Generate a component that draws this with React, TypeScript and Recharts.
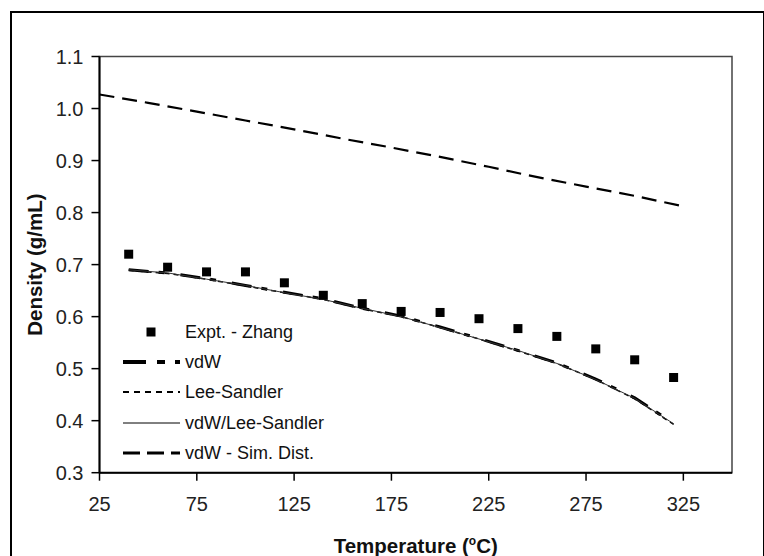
import React from 'react';
import { ComposedChart, Line, Scatter, XAxis, YAxis, Legend, ReferenceArea } from 'recharts';

// Temperatures (°C) of the experimental points and model curves
const temps = [40, 60, 80, 100, 120, 140, 160, 180, 200, 220, 240, 260, 280, 300, 320];
const zhangDensity = [0.72, 0.695, 0.686, 0.686, 0.665, 0.641, 0.625, 0.61, 0.608, 0.596, 0.577, 0.562, 0.538, 0.517, 0.483];
const vdwDensity = [0.69, 0.684, 0.673, 0.66, 0.647, 0.634, 0.616, 0.601, 0.58, 0.558, 0.535, 0.511, 0.48, 0.444, 0.395];
const leeSandlerDensity = [0.689, 0.683, 0.672, 0.659, 0.646, 0.633, 0.615, 0.6, 0.579, 0.557, 0.534, 0.51, 0.479, 0.442, 0.393];
const vdwLeeSandlerDensity = [0.69, 0.684, 0.672, 0.66, 0.646, 0.633, 0.616, 0.6, 0.579, 0.557, 0.535, 0.51, 0.479, 0.443, 0.394];

const simTemps = [25, 50, 75, 100, 125, 150, 175, 200, 225, 250, 275, 300, 325];
const simDistDensity = [1.027, 1.011, 0.994, 0.977, 0.96, 0.942, 0.925, 0.907, 0.888, 0.868, 0.85, 0.832, 0.812];

const xTicks = [25, 75, 125, 175, 225, 275, 325];
const yTicks = [0.3, 0.4, 0.5, 0.6, 0.7, 0.8, 0.9, 1.0, 1.1];

const zhangData = temps.map((t, i) => ({ t, d: zhangDensity[i] }));
const vdwData = temps.map((t, i) => ({ t, d: vdwDensity[i] }));
const leeData = temps.map((t, i) => ({ t, d: leeSandlerDensity[i] }));
const comboData = temps.map((t, i) => ({ t, d: vdwLeeSandlerDensity[i] }));
const simData = simTemps.map((t, i) => ({ t, d: simDistDensity[i] }));

const FONT = '"Liberation Sans", Arial, sans-serif';

const Square = (props: any) => {
  const { cx, cy } = props;
  if (cx == null || cy == null) return null;
  return <rect x={cx - 4.5} y={cy - 4.5} width={9} height={9} fill="#000" />;
};

const legendItems = [
  { name: 'Expt. - Zhang', kind: 'square' },
  { name: 'vdW', kind: 'line', width: 4, dash: '23 11 8 10' },
  { name: 'Lee-Sandler', kind: 'line', width: 2, dash: '6 5' },
  { name: 'vdW/Lee-Sandler', kind: 'line', width: 1, dash: undefined },
  { name: 'vdW - Sim. Dist.', kind: 'line', width: 3, dash: '17 7' },
];

const renderLegend = () => (
  <div style={{ fontFamily: FONT, fontSize: 18, color: '#111' }}>
    {legendItems.map((it) => (
      <div key={it.name} style={{ display: 'flex', alignItems: 'center', height: 30.2 }}>
        <svg width={62} height={30} style={{ display: 'block' }}>
          {it.kind === 'square' ? (
            <rect x={23.5} y={10.5} width={9} height={9} fill="#000" />
          ) : (
            <line x1={0} y1={15} x2={57} y2={15} stroke="#000" strokeWidth={it.width} strokeDasharray={it.dash} />
          )}
        </svg>
        <span style={{ lineHeight: '30px', whiteSpace: 'nowrap' }}>{it.name}</span>
      </div>
    ))}
  </div>
);

const XTitle = (props: any) => {
  const vb = props.viewBox || { x: 0, y: 0, width: 0 };
  return (
    <text x={vb.x + vb.width / 2} y={553} textAnchor="middle" fontFamily={FONT} fontSize={20.5} fontWeight="bold" fill="#111">
      Temperature (<tspan dy={-8} fontSize={12}>o</tspan><tspan dy={8}>C)</tspan>
    </text>
  );
};

const YTitle = (props: any) => {
  const vb = props.viewBox || { x: 0, y: 0, height: 0 };
  const cx = 35;
  const cy = vb.y + vb.height / 2;
  return (
    <text x={cx} y={cy} transform={`rotate(-90 ${cx} ${cy})`} textAnchor="middle" dominantBaseline="central"
      fontFamily={FONT} fontSize={20.5} fontWeight="bold" fill="#111">
      Density (g/mL)
    </text>
  );
};

export default function App() {
  return (
    <div style={{ position: 'absolute', left: 0, top: 0, width: 764, height: 556, overflow: 'hidden', background: '#fff' }}>
      <div style={{ position: 'absolute', left: 10, top: 11, width: 751, height: 600, border: '2px solid #000' }} />
      <ComposedChart
        width={764}
        height={556}
        margin={{ top: 56.5, right: 32, left: 0, bottom: 0 }}
        style={{ fontFamily: FONT }}
      >
        <XAxis
          type="number"
          dataKey="t"
          domain={[25, 350]}
          ticks={xTicks}
          allowDataOverflow
          height={83.3}
          tickSize={8}
          tickMargin={16}
          axisLine={{ stroke: '#000', strokeWidth: 2 }}
          tickLine={{ stroke: '#000', strokeWidth: 1.5 }}
          tick={{ fill: '#222', fontSize: 20 }}
          label={<XTitle />}
        />
        <YAxis
          type="number"
          dataKey="d"
          domain={[0.3, 1.1]}
          ticks={yTicks}
          allowDataOverflow
          width={99.5}
          tickSize={8}
          tickMargin={8}
          tickFormatter={(v: number) => v.toFixed(1)}
          axisLine={{ stroke: '#000', strokeWidth: 2 }}
          tickLine={{ stroke: '#000', strokeWidth: 1.5 }}
          tick={{ fill: '#222', fontSize: 20 }}
          label={<YTitle />}
        />
        <ReferenceArea x1={25} x2={350} y1={0.3} y2={1.1} fill="none" stroke="#444" strokeWidth={1.5} />
        <Line data={simData} dataKey="d" name="vdW - Sim. Dist." type="linear" stroke="#000" strokeWidth={2.2}
          strokeDasharray="15 8" dot={false} activeDot={false} isAnimationActive={false} />
        <Line data={leeData} dataKey="d" name="Lee-Sandler" type="linear" stroke="#000" strokeWidth={1.5}
          strokeDasharray="5 4" dot={false} activeDot={false} isAnimationActive={false} />
        <Line data={vdwData} dataKey="d" name="vdW" type="linear" stroke="#000" strokeWidth={3}
          strokeDasharray="20 10 6 16" dot={false} activeDot={false} isAnimationActive={false} />
        <Line data={comboData} dataKey="d" name="vdW/Lee-Sandler" type="linear" stroke="#333" strokeWidth={1}
          dot={false} activeDot={false} isAnimationActive={false} />
        <Scatter data={zhangData} dataKey="d" name="Expt. - Zhang" fill="#000" shape={<Square />} isAnimationActive={false} />
        <Legend
          layout="vertical"
          align="center"
          verticalAlign="middle"
          content={renderLegend}
          wrapperStyle={{ left: 123, top: 317, width: 260 }}
        />
      </ComposedChart>
    </div>
  );
}
